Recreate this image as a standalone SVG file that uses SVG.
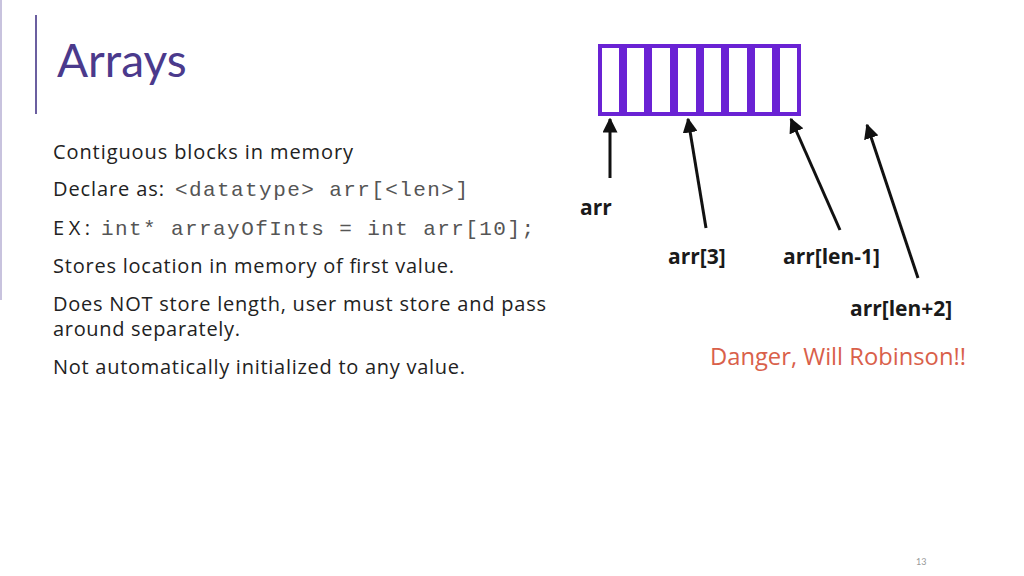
<svg xmlns="http://www.w3.org/2000/svg" width="1024" height="576" viewBox="0 0 1024 576">
<style>
.t{font-family:"Open Sans",sans-serif;font-size:20px;fill:#222}
.m{font-family:"Liberation Mono",monospace;font-size:21px;fill:#555}
.l{font-family:"Open Sans","Noto Sans",sans-serif;font-weight:bold;font-size:21px;fill:#1a1a1a}
.cell{fill:#fff;stroke:#6a22d4;stroke-width:4}
.ar{stroke:#111;stroke-width:3;fill:none;marker-end:url(#h)}
</style>
<defs><marker id="h" viewBox="0 0 10 10" refX="9" refY="5" markerWidth="5" markerHeight="5" orient="auto"><path d="M0,0L10,5L0,10z" fill="#111"/></marker></defs>
<rect width="1024" height="576" fill="#fff"/>
<line x1="1" y1="0" x2="1" y2="300" stroke="#c8c3de" stroke-width="2"/>
<line x1="36" y1="15" x2="36" y2="114" stroke="#6b5fa0" stroke-width="2"/>
<text x="57" y="77" style="font-family:Lato,sans-serif;font-size:46px;fill:#4b3a8c">Arrays</text>
<text class="t" x="53" y="159" textLength="300" lengthAdjust="spacing">Contiguous blocks in memory</text>
<text class="t" x="53" y="196" textLength="111" lengthAdjust="spacing">Declare as:</text>
<text class="m" x="175" y="196" textLength="293" lengthAdjust="spacing">&lt;datatype&gt; arr[&lt;len&gt;]</text>
<text class="t" x="53" y="235" textLength="37" lengthAdjust="spacing">EX:</text>
<text class="m" x="101" y="235" textLength="433" lengthAdjust="spacing">int* arrayOfInts = int arr[10];</text>
<text class="t" x="53" y="273" textLength="401" lengthAdjust="spacing">Stores location in memory of first value.</text>
<text class="t" x="53" y="311" textLength="493" lengthAdjust="spacing">Does NOT store length, user must store and pass</text>
<text class="t" x="53" y="336" textLength="187" lengthAdjust="spacing">around separately.</text>
<text class="t" x="53" y="374" textLength="412" lengthAdjust="spacing">Not automatically initialized to any value.</text>
<g id="array">
<rect class="cell" x="600" y="46" width="21" height="68"/>
<rect class="cell" x="625" y="46" width="21" height="68"/>
<rect class="cell" x="650" y="46" width="22" height="68"/>
<rect class="cell" x="676" y="46" width="22" height="68"/>
<rect class="cell" x="702" y="46" width="21" height="68"/>
<rect class="cell" x="727" y="46" width="22" height="68"/>
<rect class="cell" x="753" y="46" width="21" height="68"/>
<rect class="cell" x="778" y="46" width="21" height="68"/>
</g>
<g id="connectors">
<line class="ar" x1="610" y1="178" x2="610" y2="119"/>
<line class="ar" x1="706" y1="228" x2="688" y2="119"/>
<line class="ar" x1="840" y1="230" x2="791" y2="119"/>
<line class="ar" x1="918" y1="278" x2="867" y2="125"/>
</g>
<g id="labels">
<text class="l" x="580" y="215">arr</text>
<text class="l" x="668" y="264">arr[3]</text>
<text class="l" x="783" y="264">arr[len-1]</text>
<text class="l" x="850" y="316">arr[len+2]</text>
<text x="710" y="365" textLength="256" lengthAdjust="spacingAndGlyphs" style="font-family:'Open Sans',sans-serif;font-size:23px;fill:#d9604a">Danger, Will Robinson!!</text>
</g>
<text x="916" y="565" style="font-family:Lato,sans-serif;font-size:9px;fill:#999">13</text>
</svg>
